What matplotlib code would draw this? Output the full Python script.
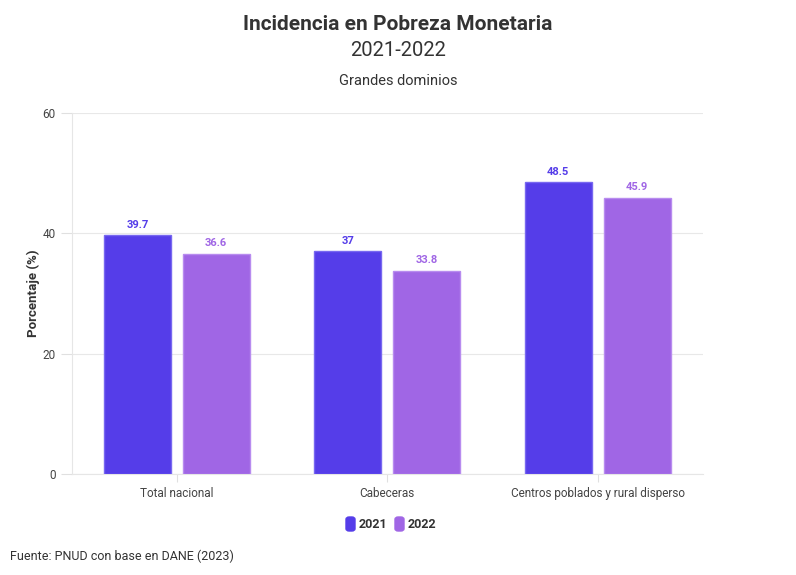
import numpy as np
import matplotlib.pyplot as plt
from matplotlib.patches import FancyBboxPatch

plt.rcParams['font.family'] = ['Roboto', 'DejaVu Sans']

# data
categories = ['Total nacional', 'Cabeceras', 'Centros poblados y rural disperso']
years = ['2021', '2022']
values_2021 = [39.7, 37, 48.5]
values_2022 = [36.6, 33.8, 45.9]
yticks = [0, 20, 40, 60]

colors = ['#553de9', '#a066e5']
edges = ['#7868f0', '#b88cef']

fig = plt.figure(figsize=(7.96, 5.75), dpi=100)
ax = fig.add_axes([0.09, 0.1757, 0.793, 0.6278])

x = np.arange(len(categories))
w = 0.318
off = 0.1875
for i, (vals, c, ec) in enumerate(zip([values_2021, values_2022], colors, edges)):
    pos = x + (off if i else -off)
    ax.bar(pos, vals, width=w, color=c, edgecolor=ec, linewidth=1, zorder=3)
    for p, v in zip(pos, vals):
        ax.text(p, v + 0.9, f'{v:g}', ha='center', va='bottom', color=c,
                fontsize=8, fontweight='bold')

ax.set_xlim(-0.5, 2.5)
ax.set_ylim(0, 60)
ax.set_yticks(yticks)
ax.set_xticks(x)
ax.set_xticklabels(categories)
ax.grid(axis='y', color='#e8e8e8', linewidth=0.8, zorder=0)
for s in ['top', 'right']:
    ax.spines[s].set_visible(False)
ax.spines['left'].set_color('#e6e6e6')
ax.spines['bottom'].set_color('#e6e6e6')
ax.tick_params(axis='both', colors='#e0e0e0', labelcolor='#444444', labelsize=8.5, length=8)
ax.tick_params(axis='x', length=6)
ax.set_ylabel('Porcentaje (%)', fontsize=9.5, fontweight='bold', color='#333333', labelpad=2)

fig.text(0.5, 0.957, 'Incidencia en Pobreza Monetaria', ha='center', va='center',
         fontsize=15, fontweight='bold', color='#333333')
fig.text(0.5, 0.912, '2021-2022', ha='center', va='center', fontsize=14.5, color='#333333')
fig.text(0.5, 0.859, 'Grandes dominios', ha='center', va='center', fontsize=10.5, color='#333333')
fig.text(0.013, 0.033, 'Fuente: PNUD con base en DANE (2023)', ha='left', va='center',
         fontsize=9, color='#333333')

# legend
lx = [346, 395]
for xx, c, lab in zip(lx, colors, years):
    fig.patches.append(FancyBboxPatch((xx / 796, 1 - 531 / 575), 9 / 796, 14 / 575,
                                      boxstyle='round,pad=0,rounding_size=0.004',
                                      transform=fig.transFigure, color=c))
    fig.text((xx + 13) / 796, 1 - 524.5 / 575, lab, ha='left', va='center',
             fontsize=9, fontweight='bold', color='#333333')

fig.savefig('out.png', dpi=100)
